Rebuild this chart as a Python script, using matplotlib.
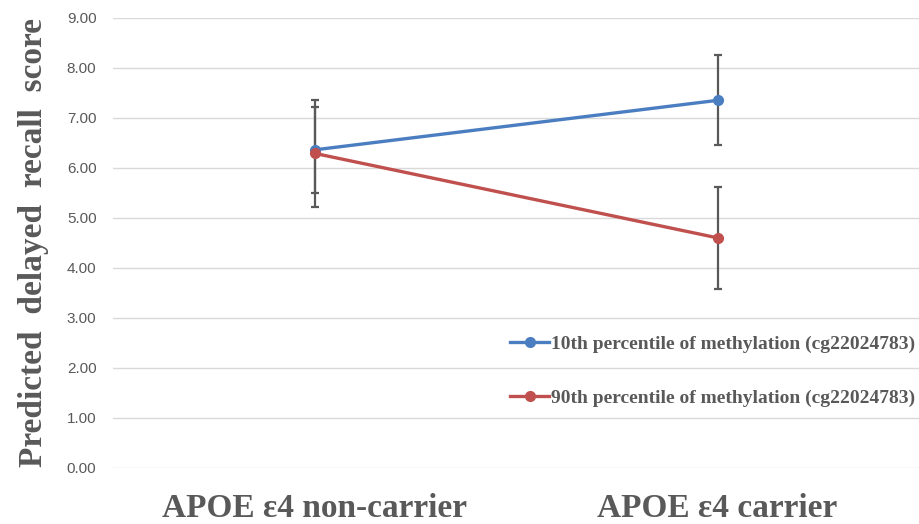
import matplotlib
matplotlib.use("Agg")
import matplotlib.pyplot as plt

# data
categories = ["APOE \u03b54 non-carrier", "APOE \u03b54 carrier"]
labels = ["10th percentile of methylation (cg22024783)",
          "90th percentile of methylation (cg22024783)"]
p10 = [6.36, 7.35]
p10_low = [5.50, 6.45]
p10_high = [7.22, 8.25]
p90 = [6.29, 4.60]
p90_low = [5.22, 3.58]
p90_high = [7.35, 5.62]
yticks = [0, 1, 2, 3, 4, 5, 6, 7, 8, 9]

blue = "#4A7EC1"
red = "#C0504D"
gray = "#595959"
serif = ["Liberation Serif", "DejaVu Serif"]

fig = plt.figure(figsize=(9.2, 5.24), dpi=100)
ax = fig.add_axes([0.123, 0.107, 0.876, 0.859])

x = list(range(len(categories)))

# error bars first so the lines sit on top
for vals, lo, hi in [(p10, p10_low, p10_high), (p90, p90_low, p90_high)]:
    yerr = [[v - l for v, l in zip(vals, lo)], [h - v for v, h in zip(vals, hi)]]
    ax.errorbar(x, vals, yerr=yerr, fmt="none", ecolor=gray, elinewidth=1.6,
                capsize=3, capthick=1.6, zorder=2)

ax.plot(x, p10, color=blue, lw=2.4, marker="o", ms=7, label=labels[0], zorder=3)
ax.plot(x, p90, color=red, lw=2.4, marker="o", ms=7, label=labels[1], zorder=3)

ax.set_xlim(-0.5, 1.5)
ax.set_ylim(0, 9)
ax.set_yticks(yticks)
ax.set_yticklabels([f"{t:.2f}" for t in yticks], color=gray, fontsize=11,
                   family=["Liberation Sans", "DejaVu Sans"])
ax.set_xticks(x)
ax.set_xticklabels(categories, fontsize=24, fontweight="bold", color=gray, family=serif)
ax.tick_params(axis="both", length=0)
ax.tick_params(axis="y", pad=12)
ax.tick_params(axis="x", pad=18)
ax.yaxis.grid(True, color="#D9D9D9", lw=1)
ax.set_axisbelow(True)
for s in ax.spines.values():
    s.set_visible(False)

ax.set_ylabel("Predicted  delayed  recall  score", fontsize=24, fontweight="bold",
              color=gray, family=serif)
ax.yaxis.set_label_coords(-0.08, 0.5)

leg = ax.legend(loc="upper right", bbox_to_anchor=(1.0, 0.304), frameon=False,
                handlelength=2.0, handletextpad=0.1, labelspacing=1.88,
                borderaxespad=0, borderpad=0.2,
                prop={"family": serif, "weight": "bold", "size": 14})
for t in leg.get_texts():
    t.set_color(gray)

fig.savefig("out.png", dpi=100)
